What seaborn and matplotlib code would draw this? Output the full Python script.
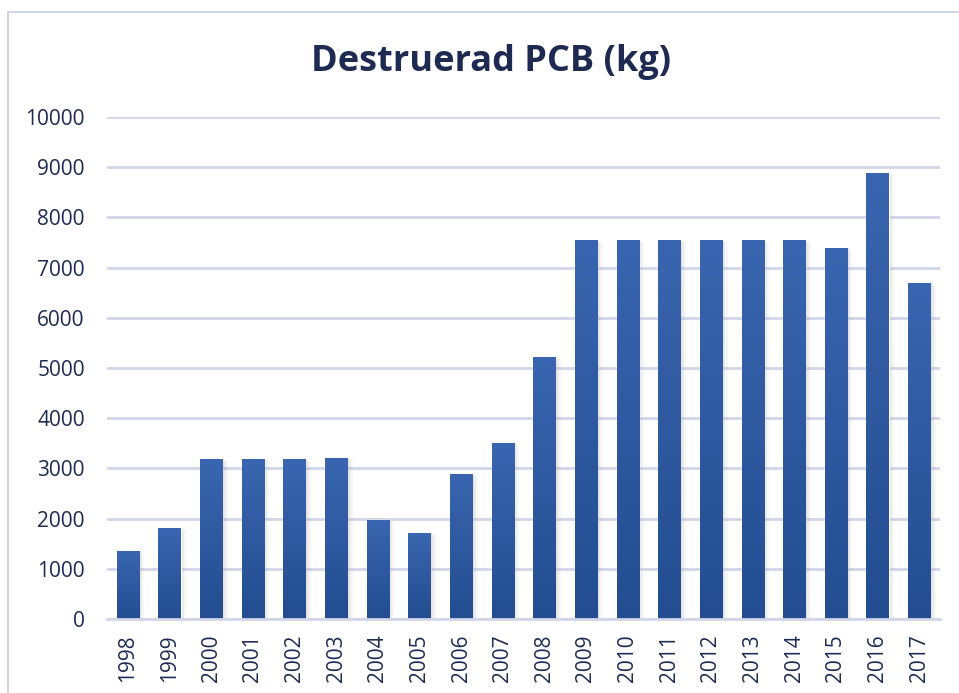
import numpy as np
import pandas as pd
import matplotlib
matplotlib.use('Agg')
import matplotlib.pyplot as plt
import matplotlib.patheffects as pe
from matplotlib.lines import Line2D
import seaborn as sns

years = ['1998', '1999', '2000', '2001', '2002', '2003', '2004', '2005', '2006', '2007',
         '2008', '2009', '2010', '2011', '2012', '2013', '2014', '2015', '2016', '2017']
kg = [1350, 1800, 3170, 3170, 3170, 3200, 1970, 1710, 2870, 3490,
      5200, 7530, 7530, 7530, 7530, 7530, 7530, 7390, 8880, 6690]
yticks = list(range(0, 10001, 1000))

df = pd.DataFrame({'year': years, 'kg': kg})

sns.set_style('white')
plt.rcParams['font.family'] = ['Open Sans', 'DejaVu Sans']

navy = '#1f2a52'
grid_col = '#d2d5e8'
top_col = np.array([58, 101, 176]) / 255
bot_col = np.array([35, 77, 144]) / 255

fig = plt.figure(figsize=(9.59, 6.93), dpi=100)
ax = fig.add_axes([107/959, 1 - 619/693, (940 - 107)/959, (619 - 117)/693])

sns.barplot(data=df, x='year', y='kg', color=bot_col, width=0.53, ax=ax,
            saturation=1, zorder=3)

# gradient fill per bar, light at top, dark at bottom
grad = np.linspace(0, 1, 256)[:, None]
cols = top_col[None, None, :] * (1 - grad[:, :, None]) + bot_col[None, None, :] * grad[:, :, None]
for p in ax.patches:
    x0, y0 = p.get_x(), p.get_y()
    w, h = p.get_width(), p.get_height()
    p.set_path_effects([pe.SimplePatchShadow(offset=(4, -1), shadow_rgbFace='#999999', alpha=0.07),
                        pe.SimplePatchShadow(offset=(2.5, -0.5), shadow_rgbFace='#999999', alpha=0.12),
                        pe.SimplePatchShadow(offset=(1.2, 0), shadow_rgbFace='#999999', alpha=0.18),
                        pe.Normal()])
    ax.imshow(cols, extent=[x0, x0 + w, y0, y0 + h], aspect='auto', zorder=4,
              interpolation='bilinear')

ax.set_xlim(-0.5, len(years) - 0.5)
ax.set_ylim(0, 10000)
ax.set_yticks(yticks)
ax.set_yticklabels([str(v) for v in yticks])
ax.grid(axis='y', color=grid_col, linewidth=2, zorder=0)
ax.set_axisbelow(True)
ax.set_xlabel('')
ax.set_ylabel('')

for s in ['top', 'right', 'left']:
    ax.spines[s].set_visible(False)
ax.spines['bottom'].set_color(grid_col)
ax.spines['bottom'].set_linewidth(2)
ax.spines['bottom'].set_zorder(5)

ax.tick_params(axis='y', length=0, pad=16, labelsize=15, labelcolor=navy)
ax.tick_params(axis='x', which='major', length=0, pad=11, labelsize=15,
               labelcolor=navy, labelrotation=90)
ax.set_xticks(np.arange(-0.5, len(years), 1), minor=True)
ax.tick_params(axis='x', which='minor', length=7, width=2, color=grid_col, direction='out')

fig.text(491/959, 1 - 62/693, 'Destruerad PCB (kg)', ha='center', va='center',
         fontsize=26, fontweight='bold', color=navy)

# chart area border
fig.add_artist(Line2D([8/959, 8/959], [0, 1 - 12/693], transform=fig.transFigure,
                      color=grid_col, linewidth=1.5))
fig.add_artist(Line2D([8/959, 1], [1 - 12/693, 1 - 12/693], transform=fig.transFigure,
                      color=grid_col, linewidth=1.5))

plt.savefig('out.png', dpi=100)
